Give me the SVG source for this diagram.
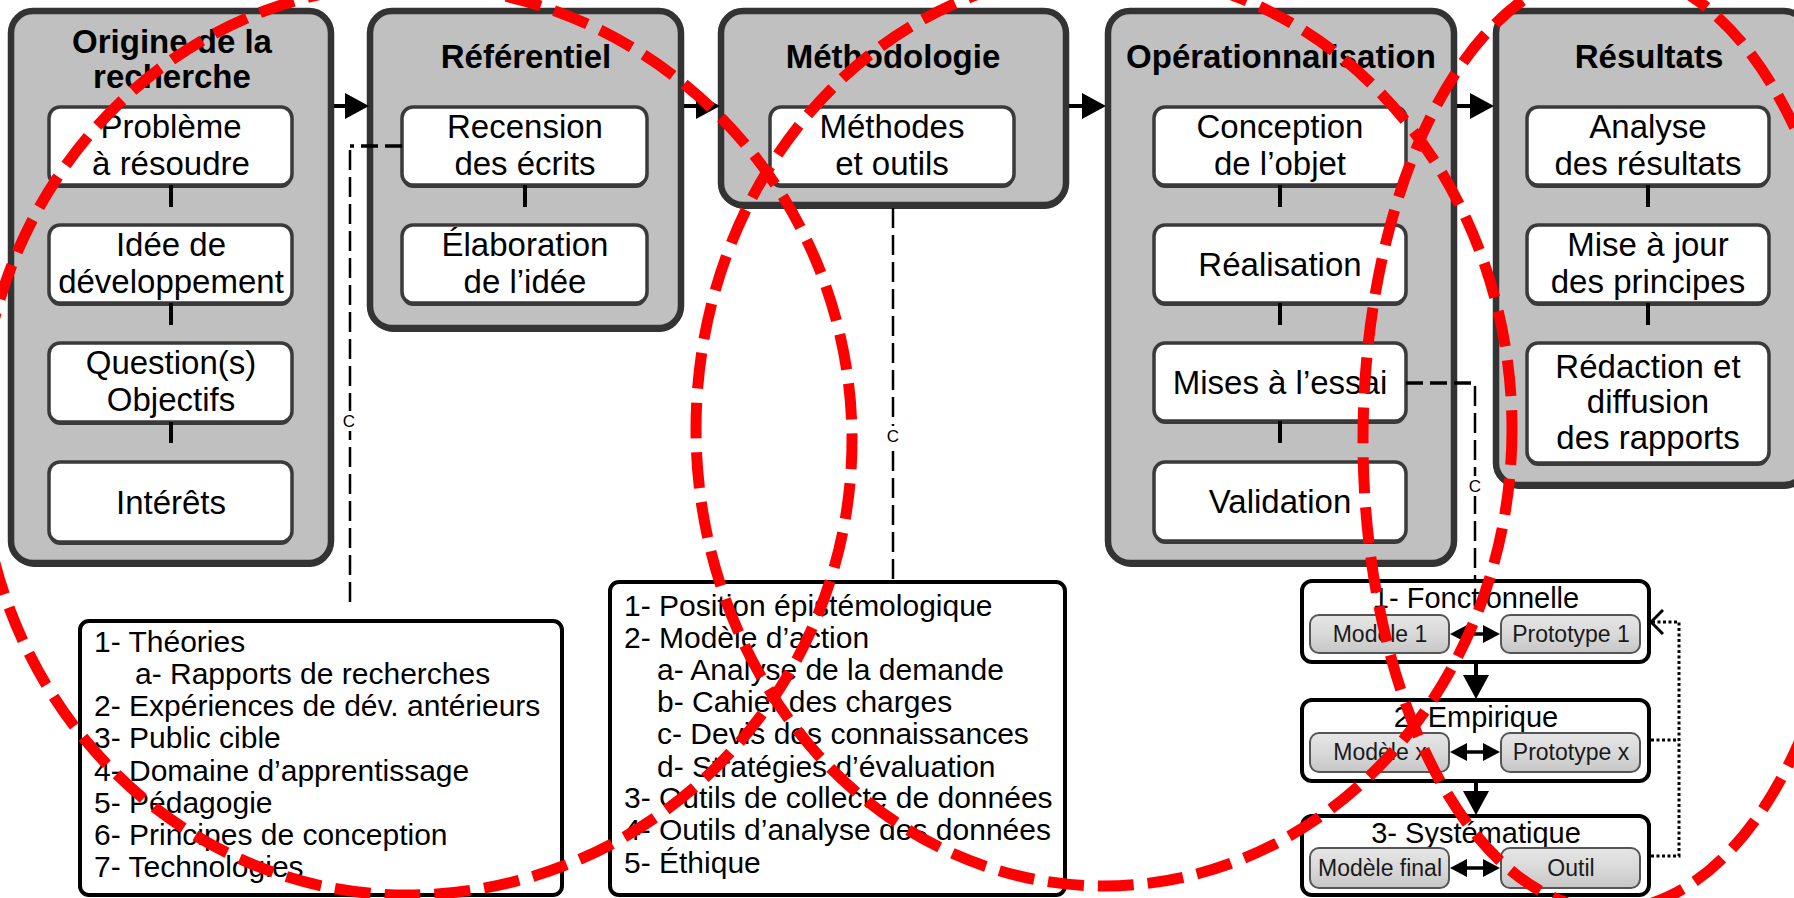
<svg xmlns="http://www.w3.org/2000/svg" width="1794" height="898" viewBox="0 0 1794 898">
<defs>
  <marker id="ah" markerUnits="userSpaceOnUse" viewBox="0 0 24 26" refX="12" refY="13" markerWidth="24" markerHeight="26" orient="auto">
    <path d="M0,0 L24,13 L0,26 z" fill="#000"/>
  </marker>
  <marker id="ahs" markerUnits="userSpaceOnUse" viewBox="0 0 17 18" refX="8" refY="9" markerWidth="17" markerHeight="18" orient="auto-start-reverse">
    <path d="M0,0 L17,9 L0,18 z" fill="#000"/>
  </marker>
  <marker id="aho" markerUnits="userSpaceOnUse" viewBox="0 0 14 26" refX="13" refY="13" markerWidth="14" markerHeight="26" orient="auto">
    <path d="M1,1 L13,13 L1,25" fill="none" stroke="#000" stroke-width="3"/>
  </marker>
  <linearGradient id="subg" x1="0" y1="0" x2="0" y2="1">
    <stop offset="0" stop-color="#e6e6e6"/>
    <stop offset="0.5" stop-color="#d9d9d9"/>
    <stop offset="1" stop-color="#c6c6c6"/>
  </linearGradient>
</defs>
<style>
  text { font-family: "Liberation Sans", Arial, sans-serif; fill: #000; }
  .oshadow { fill: #333; }
  .outer { fill: #c0c0c0; stroke: #333; stroke-width: 6.5; }
  .ishadow { fill: #3a3a3a; }
  .inner { fill: #fff; stroke: #3a3a3a; stroke-width: 3.5; }
  .title { font-weight: bold; font-size: 33px; text-anchor: middle; }
  .lbl { font-size: 33px; text-anchor: middle; }
  .list { fill: #fff; stroke: #000; stroke-width: 4; }
  .lt { font-size: 30px; }
  .panel { fill: #fff; stroke: #000; stroke-width: 4; }
  .pt { font-size: 29px; text-anchor: middle; }
  .sub { fill: url(#subg); stroke: #555; stroke-width: 2; }
  .st { font-size: 23px; text-anchor: middle; fill: #1a1a1a; }
  .stub { stroke: #000; stroke-width: 4; }
  .flow { stroke: #000; stroke-width: 4; fill: none; marker-end: url(#ah); }
  .dbl { stroke: #000; stroke-width: 3.5; fill: none; marker-start: url(#ahs); marker-end: url(#ahs); }
  .dash { stroke: #000; stroke-width: 2.5; fill: none; stroke-dasharray: 20 7; }
  .dashh { stroke: #000; stroke-width: 3.5; fill: none; stroke-dasharray: 17 7; }
  .dot { stroke: #000; stroke-width: 3; fill: none; stroke-dasharray: 3 2.5; }
  .c { font-size: 17px; text-anchor: middle; }
  .red { fill: none; stroke: #ff0000; stroke-width: 11; stroke-dasharray: 36 14; }
</style>
<rect width="1794" height="898" fill="#fff"/>

<g id="origine">
  <rect class="oshadow" x="12" y="15" width="320" height="552" rx="22"/>
  <rect class="outer" x="11" y="11" width="320" height="552" rx="22"/>
  <text class="title" x="172" y="53">Origine de la</text>
  <text class="title" x="172" y="88">recherche</text>
  <g id="probleme">
    <rect class="ishadow" x="49" y="110" width="243" height="78" rx="11"/>
    <rect class="inner" x="49" y="107" width="243" height="78" rx="11"/>
    <text class="lbl" x="171" y="138">Problème</text>
    <text class="lbl" x="171" y="175">à résoudre</text>
  </g>
  <g id="idee">
    <rect class="ishadow" x="49" y="228" width="243" height="78" rx="11"/>
    <rect class="inner" x="49" y="225" width="243" height="78" rx="11"/>
    <text class="lbl" x="171" y="256">Idée de</text>
    <text class="lbl" x="171" y="293">développement</text>
  </g>
  <g id="question">
    <rect class="ishadow" x="49" y="346" width="243" height="79" rx="11"/>
    <rect class="inner" x="49" y="343" width="243" height="79" rx="11"/>
    <text class="lbl" x="171" y="374">Question(s)</text>
    <text class="lbl" x="171" y="411">Objectifs</text>
  </g>
  <g id="interets">
    <rect class="ishadow" x="49" y="465" width="243" height="80" rx="11"/>
    <rect class="inner" x="49" y="462" width="243" height="80" rx="11"/>
    <text class="lbl" x="171" y="514">Intérêts</text>
  </g>
</g>

<g id="referentiel">
  <rect class="oshadow" x="371" y="15" width="311" height="317" rx="22"/>
  <rect class="outer" x="370" y="11" width="311" height="317" rx="22"/>
  <text class="title" x="526" y="68">Référentiel</text>
  <g id="recension">
    <rect class="ishadow" x="402" y="110" width="245" height="78" rx="11"/>
    <rect class="inner" x="402" y="107" width="245" height="78" rx="11"/>
    <text class="lbl" x="525" y="138">Recension</text>
    <text class="lbl" x="525" y="175">des écrits</text>
  </g>
  <g id="elaboration">
    <rect class="ishadow" x="402" y="228" width="245" height="78" rx="11"/>
    <rect class="inner" x="402" y="225" width="245" height="78" rx="11"/>
    <text class="lbl" x="525" y="256">Élaboration</text>
    <text class="lbl" x="525" y="293">de l’idée</text>
  </g>
</g>

<g id="methodologie">
  <rect class="oshadow" x="722" y="15" width="345" height="194" rx="22"/>
  <rect class="outer" x="721" y="11" width="345" height="194" rx="22"/>
  <text class="title" x="893" y="68">Méthodologie</text>
  <g id="methodes">
    <rect class="ishadow" x="770" y="110" width="244" height="78" rx="11"/>
    <rect class="inner" x="770" y="107" width="244" height="78" rx="11"/>
    <text class="lbl" x="892" y="138">Méthodes</text>
    <text class="lbl" x="892" y="175">et outils</text>
  </g>
</g>

<g id="operationnalisation">
  <rect class="oshadow" x="1109" y="15" width="346" height="552" rx="22"/>
  <rect class="outer" x="1108" y="11" width="346" height="552" rx="22"/>
  <text class="title" x="1281" y="68">Opérationnalisation</text>
  <g id="conception">
    <rect class="ishadow" x="1154" y="110" width="252" height="78" rx="11"/>
    <rect class="inner" x="1154" y="107" width="252" height="78" rx="11"/>
    <text class="lbl" x="1280" y="138">Conception</text>
    <text class="lbl" x="1280" y="175">de l’objet</text>
  </g>
  <g id="realisation">
    <rect class="ishadow" x="1154" y="228" width="252" height="78" rx="11"/>
    <rect class="inner" x="1154" y="225" width="252" height="78" rx="11"/>
    <text class="lbl" x="1280" y="276">Réalisation</text>
  </g>
  <g id="essai">
    <rect class="ishadow" x="1154" y="346" width="252" height="78" rx="11"/>
    <rect class="inner" x="1154" y="343" width="252" height="78" rx="11"/>
    <text class="lbl" x="1280" y="394">Mises à l’essai</text>
  </g>
  <g id="validation">
    <rect class="ishadow" x="1154" y="465" width="252" height="79" rx="11"/>
    <rect class="inner" x="1154" y="462" width="252" height="79" rx="11"/>
    <text class="lbl" x="1280" y="513">Validation</text>
  </g>
</g>

<g id="resultats">
  <rect class="oshadow" x="1497" y="15" width="310" height="474" rx="22"/>
  <rect class="outer" x="1496" y="11" width="310" height="474" rx="22"/>
  <text class="title" x="1649" y="68">Résultats</text>
  <g id="analyse">
    <rect class="ishadow" x="1527" y="110" width="242" height="78" rx="11"/>
    <rect class="inner" x="1527" y="107" width="242" height="78" rx="11"/>
    <text class="lbl" x="1648" y="138">Analyse</text>
    <text class="lbl" x="1648" y="175">des résultats</text>
  </g>
  <g id="miseajour">
    <rect class="ishadow" x="1527" y="228" width="242" height="78" rx="11"/>
    <rect class="inner" x="1527" y="225" width="242" height="78" rx="11"/>
    <text class="lbl" x="1648" y="256">Mise à jour</text>
    <text class="lbl" x="1648" y="293">des principes</text>
  </g>
  <g id="redaction">
    <rect class="ishadow" x="1527" y="346" width="242" height="120" rx="11"/>
    <rect class="inner" x="1527" y="343" width="242" height="120" rx="11"/>
    <text class="lbl" x="1648" y="378">Rédaction et</text>
    <text class="lbl" x="1648" y="413">diffusion</text>
    <text class="lbl" x="1648" y="449">des rapports</text>
  </g>
</g>

<g id="liste-referentiel">
  <rect class="list" x="80" y="621" width="482" height="274" rx="9"/>
  <text class="lt" x="94" y="652">1- Théories</text>
  <text class="lt" x="135" y="684">a- Rapports de recherches</text>
  <text class="lt" x="94" y="716">2- Expériences de dév. antérieurs</text>
  <text class="lt" x="94" y="748">3- Public cible</text>
  <text class="lt" x="94" y="781">4- Domaine d’apprentissage</text>
  <text class="lt" x="94" y="813">5- Pédagogie</text>
  <text class="lt" x="94" y="845">6- Principes de conception</text>
  <text class="lt" x="94" y="877">7- Technologies</text>
</g>

<g id="liste-methodologie">
  <rect class="list" x="610" y="582" width="455" height="313" rx="9"/>
  <text class="lt" x="624" y="616">1- Position épistémologique</text>
  <text class="lt" x="624" y="648">2- Modèle d’action</text>
  <text class="lt" x="657" y="680">a- Analyse de la demande</text>
  <text class="lt" x="657" y="712">b- Cahier des charges</text>
  <text class="lt" x="657" y="744">c- Devis des connaissances</text>
  <text class="lt" x="657" y="777">d- Stratégies d’évaluation</text>
  <text class="lt" x="624" y="808">3- Outils de collecte de données</text>
  <text class="lt" x="624" y="840">4- Outils d’analyse des données</text>
  <text class="lt" x="624" y="873">5- Éthique</text>
</g>

<g id="fonctionnelle">
  <rect class="panel" x="1302" y="581" width="347" height="81" rx="10"/>
  <text class="pt" x="1476" y="608">1- Fonctionnelle</text>
  <rect class="sub" x="1310" y="615" width="139" height="38" rx="9"/>
  <text class="st" x="1380" y="642">Modèle 1</text>
  <rect class="sub" x="1501" y="615" width="139" height="38" rx="9"/>
  <text class="st" x="1571" y="642">Prototype 1</text>
</g>
<g id="empirique">
  <rect class="panel" x="1302" y="700" width="347" height="81" rx="10"/>
  <text class="pt" x="1476" y="727">2- Empirique</text>
  <rect class="sub" x="1310" y="733" width="139" height="39" rx="9"/>
  <text class="st" x="1380" y="760">Modèle x</text>
  <rect class="sub" x="1501" y="733" width="139" height="39" rx="9"/>
  <text class="st" x="1571" y="760">Prototype x</text>
</g>
<g id="systematique">
  <rect class="panel" x="1302" y="816" width="347" height="79" rx="10"/>
  <text class="pt" x="1476" y="843">3- Systématique</text>
  <rect class="sub" x="1310" y="848" width="139" height="40" rx="9"/>
  <text class="st" x="1380" y="876">Modèle final</text>
  <rect class="sub" x="1501" y="848" width="139" height="40" rx="9"/>
  <text class="st" x="1571" y="876">Outil</text>
</g>

<g id="connectors">
  <line class="stub" x1="171" y1="185" x2="171" y2="207"/>
  <line class="stub" x1="171" y1="303" x2="171" y2="325"/>
  <line class="stub" x1="171" y1="422" x2="171" y2="443"/>
  <line class="stub" x1="525" y1="185" x2="525" y2="207"/>
  <line class="stub" x1="1280" y1="185" x2="1280" y2="207"/>
  <line class="stub" x1="1280" y1="303" x2="1280" y2="325"/>
  <line class="stub" x1="1280" y1="421" x2="1280" y2="443"/>
  <line class="stub" x1="1648" y1="185" x2="1648" y2="207"/>
  <line class="stub" x1="1648" y1="303" x2="1648" y2="325"/>

  <line class="flow" x1="334" y1="106" x2="357" y2="106"/>
  <line class="flow" x1="684" y1="106" x2="708" y2="106"/>
  <line class="flow" x1="1069" y1="106" x2="1094" y2="106"/>
  <line class="flow" x1="1457" y1="106" x2="1482" y2="106"/>

  <path class="dashh" d="M402,146 H350"/>
  <path class="dash" d="M350,150 V603"/>
  <path class="dash" d="M893,208 V582"/>
  <path class="dashh" d="M1406,383 H1475"/>
  <path class="dash" d="M1475,386 V581"/>
  <rect x="341" y="411" width="17" height="20" fill="#fff"/>
  <text class="c" x="349" y="427">C</text>
  <rect x="884" y="426" width="17" height="20" fill="#fff"/>
  <text class="c" x="893" y="442">C</text>
  <rect x="1467" y="476" width="17" height="20" fill="#fff"/>
  <text class="c" x="1475" y="492">C</text>

  <line class="flow" x1="1476" y1="664" x2="1476" y2="687"/>
  <line class="flow" x1="1476" y1="783" x2="1476" y2="803"/>
  <line class="dbl" x1="1459" y1="634" x2="1491" y2="634"/>
  <line class="dbl" x1="1459" y1="752" x2="1491" y2="752"/>
  <line class="dbl" x1="1459" y1="868" x2="1491" y2="868"/>
  <path class="dot" d="M1651,740 H1679"/>
  <path class="dot" d="M1651,856 H1679 V622 H1651" marker-end="url(#aho)"/>
</g>

<g id="annotations">
  <path class="red" d="M407,-15 A445,455 0 0 1 852,440 A445,455 0 0 1 407,895 A428,455 0 0 1 -21,440 A428,455 0 0 1 407,-15 Z"/>
  <ellipse class="red" cx="1104" cy="429" rx="408" ry="457"/>
  <ellipse class="red" cx="1610" cy="440" rx="247" ry="470"/>
</g>
</svg>
